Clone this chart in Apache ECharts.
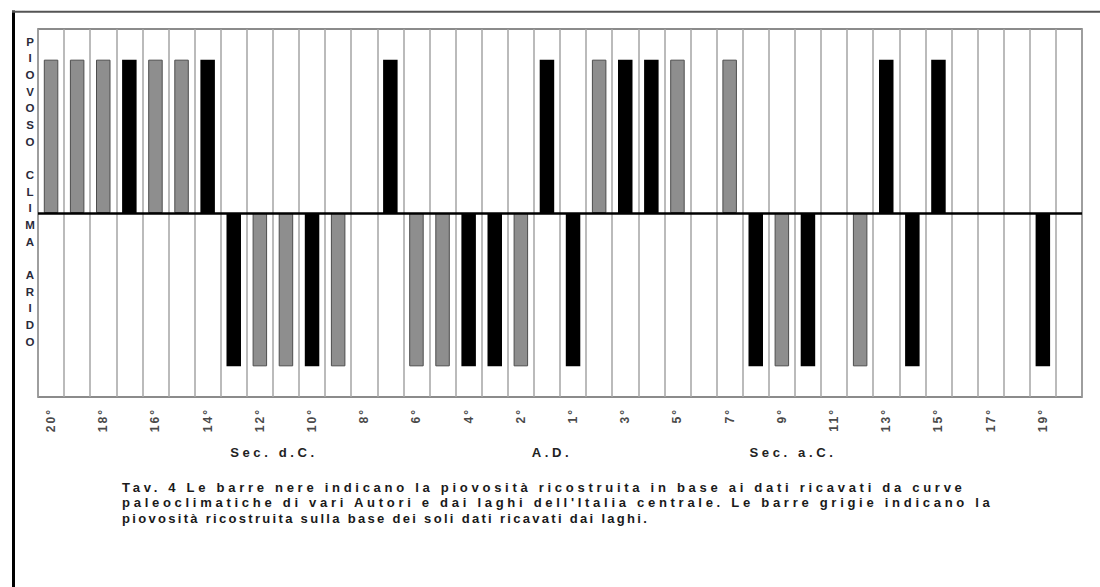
<!DOCTYPE html>
<html><head><meta charset="utf-8">
<script src="https://cdn.jsdelivr.net/npm/echarts@6/dist/echarts.min.js"></script>
<style>
html,body{margin:0;padding:0;background:#fff;}
#chart{width:1100px;height:587px;}
#chart text[style*="13.05px"]{letter-spacing:3.7px;}
#chart text[style*="13.02px"]{letter-spacing:2.3px;}
#chart text[style*="13.1px"]{letter-spacing:3.6px;}
#chart text[style*="12.1px"]{letter-spacing:2px;}
</style>
</head><body><div id="chart"></div>
<script>
// Centuries: d.C. counted down to 1, then a.C. counted up to 20
const centuriesDC = [20,19,18,17,16,15,14,13,12,11,10,9,8,7,6,5,4,3,2,1];
const centuriesAC = [1,2,3,4,5,6,7,8,9,10,11,12,13,14,15,16,17,18,19,20];
const categories = centuriesDC.map(n => n + '° d.C.').concat(centuriesAC.map(n => n + '° a.C.'));

// 1 = piovoso (rainy), -1 = arido (dry), null = no bar
const blackBars = [null,null,null,1,null,null,1,-1,null,null,-1,null,null,1,null,null,-1,-1,null,1,
                   -1,null,1,1,null,null,null,-1,null,-1,null,null,1,-1,1,null,null,null,-1,null];
const grayBars  = [1,1,1,null,1,1,null,null,-1,-1,null,-1,null,null,-1,-1,null,null,-1,null,
                   null,1,null,null,1,null,1,null,-1,null,null,-1,null,null,null,null,null,null,null,null];

const sideLetters = ['P','I','O','V','O','S','O','','C','L','I','M','A','','A','R','I','D','O'];
const sectionLabels = ['Sec. d.C.', 'A.D.', 'Sec. a.C.'];
const captionLines = [
  "Tav. 4 Le barre nere indicano la piovosità ricostruita in base ai dati ricavati da curve",
  "paleoclimatiche di vari Autori e dai laghi dell'Italia centrale. Le barre grigie indicano la",
  "piovosità ricostruita sulla base dei soli dati ricavati dai laghi."
];

const FF = 'Liberation Sans, Arial, sans-serif';
const chart = echarts.init(document.getElementById('chart'), null, {renderer: 'svg'});
const captionFonts = ['bold 13.05px ', 'bold 13.05px ', 'bold 13.02px '];
chart.setOption({
  animation: false,
  backgroundColor: '#fff',
  grid: {left: 38, right: 18, top: 29, bottom: 190, show: true, borderColor: '#666', borderWidth: 1.5, outerBoundsMode: 'none'},
  xAxis: {
    type: 'category', data: categories, boundaryGap: true,
    axisLine: {show: false, onZero: false}, axisTick: {show: false},
    axisLabel: {interval: 1, rotate: 90, margin: 11, fontSize: 12.1, fontWeight: 'bold', fontFamily: FF, color: '#4a4a4a',
      formatter: v => v.split(' ')[0]},
    splitLine: {show: true, interval: 0, lineStyle: {color: '#a5a5a5', width: 1.5}}
  },
  yAxis: {
    type: 'value', min: -1.2, max: 1.2,
    axisLine: {show: false}, axisTick: {show: false}, axisLabel: {show: false}, splitLine: {show: false}
  },
  series: [
    {type: 'bar', name: 'nere', data: blackBars, barWidth: 14.5, barGap: '-100%',
     itemStyle: {color: '#000'},
     markLine: {silent: true, symbol: ['none','none'], label: {show: false},
       lineStyle: {color: '#000', width: 2.5, type: 'solid'}, data: [{yAxis: 0}]}},
    {type: 'bar', name: 'grigie', data: grayBars, barWidth: 14.5, barGap: '-100%',
     itemStyle: {color: '#8e8e8e', borderColor: '#4d4d4d', borderWidth: 1}}
  ],
  graphic: [
    {type: 'line', shape: {x1: 13.5, y1: 10.5, x2: 13.5, y2: 587}, style: {stroke: '#000', lineWidth: 3}},
    {type: 'line', shape: {x1: 12, y1: 11.8, x2: 1100, y2: 11.8}, style: {stroke: '#555', lineWidth: 2}},
    {type: 'text', x: 30, y: 33.4, style: {text: sideLetters.join('\n'), font: 'bold 11.5px ' + FF,
      fill: '#2a2a3a', textAlign: 'center', verticalAlign: 'top', lineHeight: 16.67}},
    {type: 'text', x: 274, y: 452, style: {text: sectionLabels[0], font: 'bold 13.1px ' + FF, fill: '#222', textAlign: 'center', verticalAlign: 'middle'}},
    {type: 'text', x: 552, y: 452, style: {text: sectionLabels[1], font: 'bold 13.1px ' + FF, fill: '#222', textAlign: 'center', verticalAlign: 'middle'}},
    {type: 'text', x: 793, y: 452, style: {text: sectionLabels[2], font: 'bold 13.1px ' + FF, fill: '#222', textAlign: 'center', verticalAlign: 'middle'}}
  ].concat(captionLines.map((line, i) => ({
    type: 'text', x: 122, y: 479.5 + i * 15.6,
    style: {text: line, font: captionFonts[i] + FF, fill: '#1a1a1a', textAlign: 'left', verticalAlign: 'top', lineHeight: 15.6}
  })))
});
</script>
</body></html>
